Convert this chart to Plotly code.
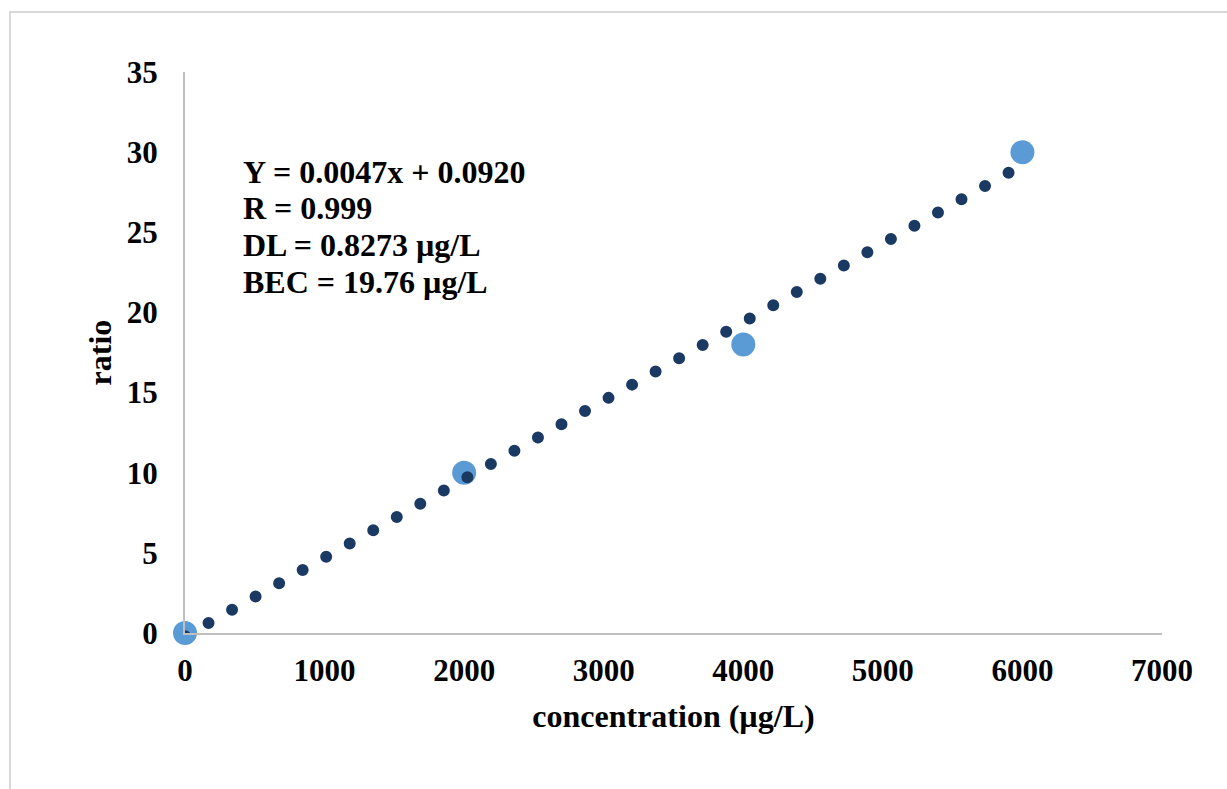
import numpy as np
import plotly.graph_objects as go

# Data
concentration = [0, 2000, 4000, 6000]
ratio = [0, 10, 18, 30]
info_lines = ["Y = 0.0047x + 0.0920", "R = 0.999", "DL = 0.8273 µg/L", "BEC = 19.76 µg/L"]
x_ticks = [0, 1000, 2000, 3000, 4000, 5000, 6000, 7000]
y_ticks = [0, 5, 10, 15, 20, 25, 30, 35]

# Linear trendline fitted to the data
slope, intercept = np.polyfit(concentration, ratio, 1)
trend_x = [min(concentration), max(concentration)]
trend_y = [slope * v + intercept for v in trend_x]

FONT = "Liberation Serif"
W, H = 1227, 789
L, R, T, B = 185, 65, 72, 156
pw, ph = W - L - R, H - T - B

def px_to_paper_x(px):
    return (px - L) / pw

def px_to_paper_y(py):
    return (H - B - py) / ph

fig = go.Figure()
fig.add_trace(go.Scatter(
    x=concentration, y=ratio, mode="markers",
    marker=dict(size=24, color="#5B9BD5"),
    cliponaxis=False, showlegend=False,
))
fig.add_trace(go.Scatter(
    x=trend_x, y=trend_y, mode="lines",
    line=dict(color="#1B3A63", width=12, dash="0px,27px"),
    cliponaxis=False, showlegend=False,
))

annotations = []
line_y = [172, 208, 245, 282]
for txt, py in zip(info_lines, line_y):
    annotations.append(dict(
        text=txt, xref="paper", yref="paper",
        x=px_to_paper_x(241), y=px_to_paper_y(py),
        xanchor="left", yanchor="middle", showarrow=False,
        font=dict(family=FONT, size=32, color="black", weight="bold"),
    ))

fig.update_layout(
    width=W, height=H,
    margin=dict(l=L, r=R, t=T, b=B),
    paper_bgcolor="white", plot_bgcolor="white",
    annotations=annotations,
    shapes=[dict(
        type="rect", xref="paper", yref="paper",
        x0=px_to_paper_x(10), x1=px_to_paper_x(1240),
        y0=px_to_paper_y(800), y1=px_to_paper_y(12),
        line=dict(color="#D9D9D9", width=2), layer="below",
    )],
    xaxis=dict(
        range=[0, 7000], tickvals=x_ticks, ticktext=[str(v) for v in x_ticks],
        showgrid=False, zeroline=False, showline=True, linecolor="#BFBFBF", linewidth=2,
        ticks="", ticklabelstandoff=9,
        tickfont=dict(family=FONT, size=31, color="black", weight="bold"),
        title=dict(text="concentration (µg/L)", standoff=17,
                   font=dict(family=FONT, size=32, color="black", weight="bold")),
        automargin=False,
    ),
    yaxis=dict(
        range=[0, 35], tickvals=y_ticks, ticktext=[str(v) for v in y_ticks],
        showgrid=False, zeroline=False, showline=True, linecolor="#BFBFBF", linewidth=2,
        ticks="", ticklabelstandoff=19,
        tickfont=dict(family=FONT, size=31, color="black", weight="bold"),
        title=dict(text="ratio", standoff=6,
                   font=dict(family=FONT, size=32, color="black", weight="bold")),
        automargin=False,
    ),
)

post = """
document.body.style.margin = '0';
var gd = document.getElementById('{plot_id}');
function roundCaps(){
  var traces = gd.querySelectorAll('.scatterlayer .trace');
  traces.forEach(function(t){
    t.querySelectorAll('path.js-line').forEach(function(p){ p.style.strokeLinecap = 'round'; });
  });
}
roundCaps();
gd.on('plotly_afterplot', roundCaps);
"""
fig.write_html("out.html", post_script=post, config={"displayModeBar": False})
